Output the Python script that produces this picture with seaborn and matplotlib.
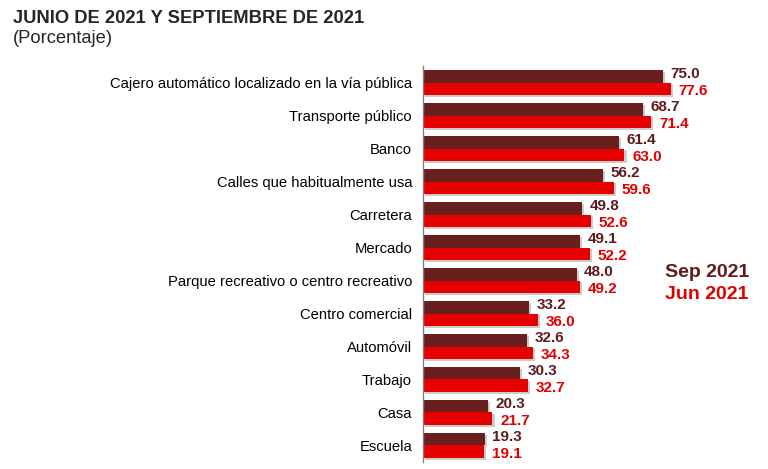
import pandas as pd
import seaborn as sns
import matplotlib.pyplot as plt
from matplotlib import patheffects

# Datos
categorias = [
    'Cajero automático localizado en la vía pública',
    'Transporte público',
    'Banco',
    'Calles que habitualmente usa',
    'Carretera',
    'Mercado',
    'Parque recreativo o centro recreativo',
    'Centro comercial',
    'Automóvil',
    'Trabajo',
    'Casa',
    'Escuela',
]
sep_2021 = [75.0, 68.7, 61.4, 56.2, 49.8, 49.1, 48.0, 33.2, 32.6, 30.3, 20.3, 19.3]
jun_2021 = [77.6, 71.4, 63.0, 59.6, 52.6, 52.2, 49.2, 36.0, 34.3, 32.7, 21.7, 19.1]
periodos = ['Sep 2021', 'Jun 2021']

color_sep = '#6A1F1F'
color_jun = '#E60000'
texto_sep = '#5E1C1C'
texto_jun = '#E00000'

data = pd.DataFrame({
    'categoria': categorias * 2,
    'valor': sep_2021 + jun_2021,
    'periodo': [periodos[0]] * len(categorias) + [periodos[1]] * len(categorias),
})

sns.set_style('white')
plt.rcParams['font.family'] = ['Liberation Sans', 'DejaVu Sans']

fig = plt.figure(figsize=(7.68, 4.69), dpi=100)
ax = fig.add_axes([0.551, 0.015, 0.416, 0.844])

sns.barplot(data=data, x='valor', y='categoria', hue='periodo',
            hue_order=periodos, order=categorias,
            palette=[color_sep, color_jun], saturation=1, width=0.76,
            linewidth=0, orient='h', errorbar=None, legend=False, ax=ax)

sombra = [patheffects.SimplePatchShadow(offset=(1.5, -1.2), shadow_rgbFace='#AAAAAA', alpha=0.6),
          patheffects.Normal()]
for barra in ax.patches:
    barra.set_path_effects(sombra)

# Etiquetas de valor (Sep un poco arriba, Jun un poco abajo)
for cont, col, dy in zip(ax.containers, [texto_sep, texto_jun], [1.5, -1.5]):
    for barra in cont:
        ax.annotate(f'{barra.get_width():.1f}',
                    xy=(barra.get_width(), barra.get_y() + barra.get_height() / 2),
                    xytext=(5.5, dy), textcoords='offset points',
                    ha='left', va='center', color=col,
                    fontsize=11, fontweight='bold')

ax.set_xlim(0, 100)
ax.set_ylim(len(categorias) - 0.5, -0.5)
ax.set_xlabel('')
ax.set_ylabel('')
ax.set_xticks([])

ax.set_yticks(range(len(categorias)))
ax.set_yticklabels(categorias, fontsize=10.6, color='black')
ax.tick_params(axis='y', which='major', length=0, pad=8)
ax.set_yticks([i - 0.5 for i in range(len(categorias) + 1)], minor=True)
ax.tick_params(axis='y', which='minor', length=4, width=1, color='#808080', direction='out')

for lado in ['top', 'right', 'bottom']:
    ax.spines[lado].set_visible(False)
ax.spines['left'].set_color('#808080')
ax.spines['left'].set_linewidth(1)

# Titulo
fig.text(0.017, 0.96, 'JUNIO DE 2021 Y SEPTIEMBRE DE 2021', fontsize=13.2,
         fontweight='bold', va='center', ha='left')
fig.text(0.017, 0.918, '(Porcentaje)', fontsize=13.2, va='center', ha='left')

# Leyenda como texto
fig.text(0.866, 0.42, periodos[0], fontsize=14, fontweight='bold', color=texto_sep,
         va='center', ha='left')
fig.text(0.866, 0.373, periodos[1], fontsize=14, fontweight='bold', color=texto_jun,
         va='center', ha='left')

fig.savefig('out.png', dpi=100)
